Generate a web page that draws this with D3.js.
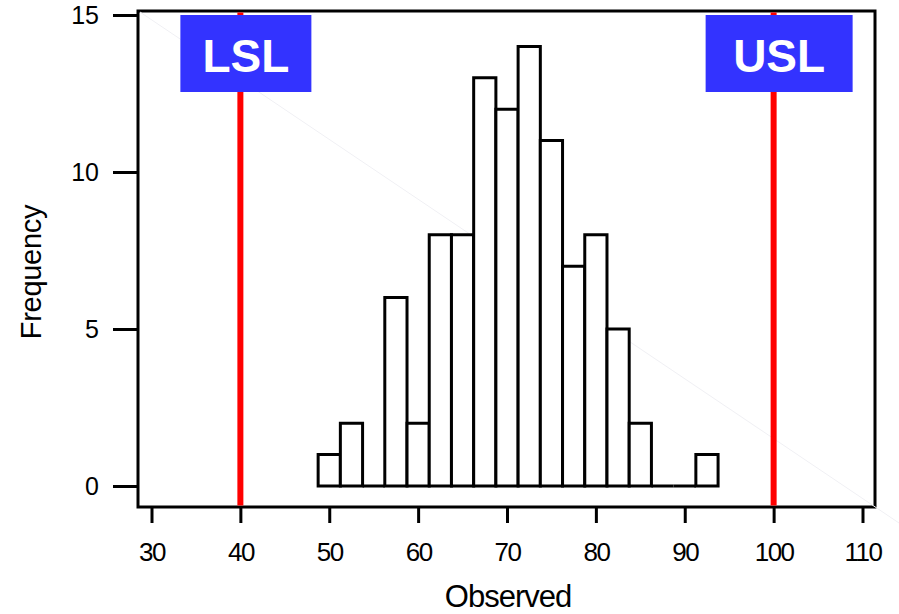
<!DOCTYPE html>
<html>
<head>
<meta charset="utf-8">
<script src="https://cdn.jsdelivr.net/npm/d3@7/dist/d3.min.js"></script>
<style>
  html, body { margin: 0; padding: 0; background: #fff; }
  svg { display: block; font-family: "Liberation Sans", Arial, sans-serif; }
</style>
</head>
<body>
<svg id="chart" width="899" height="614"></svg>
<script>
// Histogram bins: midpoints and counts (bin width 2.5)
const binMidpoints = [50, 52.5, 55, 57.5, 60, 62.5, 65, 67.5, 70, 72.5, 75, 77.5, 80, 82.5, 85, 87.5, 90, 92.5];
const binCounts    = [1, 2, 0, 6, 2, 8, 8, 13, 12, 14, 11, 7, 8, 5, 2, 0, 0, 1];
const binWidth = 2.5;

// Specification limits
const specNames  = ["LSL", "USL"];
const specValues = [40, 100];

// Axis ticks
const xTicks = [30, 40, 50, 60, 70, 80, 90, 100, 110];
const yTicks = [0, 5, 10, 15];

const svg = d3.select("#chart");

const frame = { left: 138, right: 875, top: 11, bottom: 507 };

const x = d3.scaleLinear().domain([30, 110]).range([151.5, 862.5]);
const y = d3.scaleLinear().domain([0, 15]).range([486, 15]);

// Plot frame
svg.append("rect")
  .attr("x", frame.left).attr("y", frame.top)
  .attr("width", frame.right - frame.left)
  .attr("height", frame.bottom - frame.top)
  .attr("fill", "#fff").attr("stroke", "#000").attr("stroke-width", 3);

// faint diagonal hairline across the panel
svg.append("line")
  .attr("x1", frame.left + 2).attr("y1", frame.top + 1)
  .attr("x2", 899).attr("y2", 523)
  .attr("stroke", "#f0f0f4").attr("stroke-width", 1);

// Histogram bars (paths so empty bins still show as a baseline segment)
svg.append("g").selectAll("path")
  .data(binMidpoints.map((m, i) => ({ m, c: binCounts[i] })))
  .join("path")
  .attr("d", d => {
    const x0 = x(d.m - binWidth / 2), x1 = x(d.m + binWidth / 2);
    const y0 = y(0), y1 = y(d.c);
    return `M${x0},${y0}V${y1}H${x1}V${y0}Z`;
  })
  .attr("fill", "#fff")
  .attr("stroke", "#000")
  .attr("stroke-width", 3)
  .attr("stroke-linejoin", "miter");

// Specification limit lines
svg.append("g").selectAll("line")
  .data(specValues)
  .join("line")
  .attr("x1", d => x(d)).attr("x2", d => x(d))
  .attr("y1", frame.top + 1.5).attr("y2", frame.bottom - 1.5)
  .attr("stroke", "#ff0000").attr("stroke-width", 6);

// Labelled boxes for the limits
const boxW = [131, 147];
const boxOffset = [5.5, 5.5];
const labels = svg.append("g").selectAll("g")
  .data(specNames.map((n, i) => ({ n, v: specValues[i], w: boxW[i], o: boxOffset[i] })))
  .join("g");
labels.append("rect")
  .attr("x", d => x(d.v) + d.o - d.w / 2)
  .attr("y", 15)
  .attr("width", d => d.w)
  .attr("height", 77)
  .attr("fill", "#3333ff");
labels.append("text")
  .attr("x", d => x(d.v) + d.o)
  .attr("y", 72)
  .attr("text-anchor", "middle")
  .attr("fill", "#fff")
  .attr("font-weight", "bold")
  .attr("font-size", 46)
  .text(d => d.n);

// X axis (ticks hang below the frame)
const xAxis = svg.append("g")
  .attr("transform", `translate(0,${frame.bottom + 1})`)
  .call(d3.axisBottom(x).tickValues(xTicks).tickSize(15).tickPadding(20).tickFormat(d3.format("d")));
xAxis.select(".domain").remove();
xAxis.selectAll(".tick line").attr("stroke", "#000").attr("stroke-width", 3);
xAxis.selectAll(".tick text")
  .attr("font-size", 26).attr("fill", "#000")
  .attr("font-family", "'Liberation Sans', Arial, sans-serif")
  .attr("letter-spacing", -1.5);

// Y axis (ticks to the left of the frame)
const yAxis = svg.append("g")
  .attr("transform", `translate(${frame.left},0)`)
  .call(d3.axisLeft(y).tickValues(yTicks).tickSize(25).tickPadding(14).tickFormat(d3.format("d")));
yAxis.select(".domain").remove();
yAxis.selectAll(".tick line").attr("stroke", "#000").attr("stroke-width", 3);
yAxis.selectAll(".tick text")
  .attr("font-size", 25).attr("fill", "#000")
  .attr("font-family", "'Liberation Sans', Arial, sans-serif");

// Axis titles
svg.append("text")
  .attr("x", 508).attr("y", 607)
  .attr("text-anchor", "middle")
  .attr("font-size", 31)
  .attr("letter-spacing", -1)
  .text("Observed");

svg.append("text")
  .attr("transform", "translate(41,272) rotate(-90)")
  .attr("text-anchor", "middle")
  .attr("font-size", 29)
  .attr("letter-spacing", -0.3)
  .text("Frequency");
</script>
</body>
</html>
